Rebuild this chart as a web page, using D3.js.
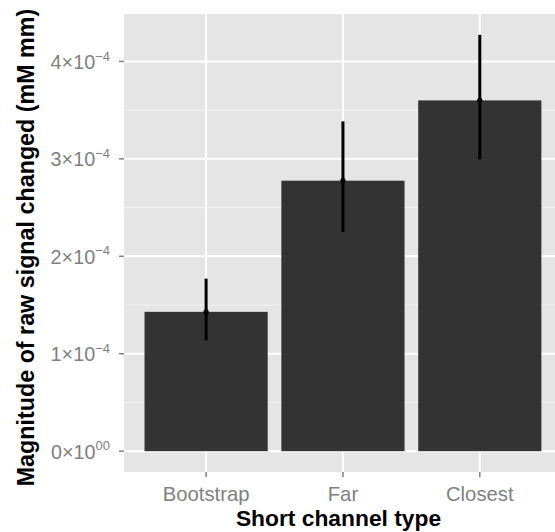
<!DOCTYPE html>
<html>
<head>
<meta charset="utf-8">
<script src="https://cdn.jsdelivr.net/npm/d3@7"></script>
<style>
  html, body { margin: 0; padding: 0; background: #fff; }
  svg { display: block; font-family: "Liberation Sans", Arial, Helvetica, sans-serif; }
</style>
</head>
<body>
<svg id="chart" width="555" height="532"></svg>
<script>
// Short channel types and mean signal change with error bounds
const categories = ["Bootstrap", "Far", "Closest"];
const means = [1.43e-4, 2.776e-4, 3.60e-4];
const lower = [1.138e-4, 2.25e-4, 2.995e-4];
const upper = [1.771e-4, 3.385e-4, 4.273e-4];
// y-axis tick values with their mantissa / exponent labels
const yTicks = [0, 1e-4, 2e-4, 3e-4, 4e-4];
const yTickMantissa = ["0", "1", "2", "3", "4"];
const yTickExponent = ["00", "\u22124", "\u22124", "\u22124", "\u22124"];

const svg = d3.select("#chart");
const panel = { left: 124, top: 14, bottom: 472, right: 561.9 };

// continuous y scale with 5% expansion around [0, max upper bound]
const yMax = d3.max(upper);
const pad = yMax * 0.05;
const y = d3.scaleLinear().domain([-pad, yMax + pad]).range([panel.bottom, panel.top]);

// discrete x positions, 0.6 category units of padding at each end
const x = d3.scalePoint().domain(categories).range([panel.left, panel.right]).padding(0.6);
const barW = x.step() * 0.9;

svg.append("defs").append("clipPath").attr("id", "panel-clip")
  .append("rect").attr("x", panel.left).attr("y", panel.top)
  .attr("width", panel.right - panel.left).attr("height", panel.bottom - panel.top);

const g = svg.append("g").attr("clip-path", "url(#panel-clip)");

g.append("rect")
  .attr("x", panel.left).attr("y", panel.top)
  .attr("width", panel.right - panel.left).attr("height", panel.bottom - panel.top)
  .attr("fill", "#E5E5E5");

// minor grid lines halfway between major ticks
const minor = d3.range(yTicks.length + 1).map(i => (i - 0.5) * 1e-4)
  .filter(v => v >= y.domain()[0] && v <= y.domain()[1]);
g.selectAll("line.minor").data(minor).join("line")
  .attr("class", "minor")
  .attr("x1", panel.left).attr("x2", panel.right)
  .attr("y1", d => y(d)).attr("y2", d => y(d))
  .attr("stroke", "#F2F2F2").attr("stroke-width", 1);

g.selectAll("line.majory").data(yTicks).join("line")
  .attr("class", "majory")
  .attr("x1", panel.left).attr("x2", panel.right)
  .attr("y1", d => y(d)).attr("y2", d => y(d))
  .attr("stroke", "#fff").attr("stroke-width", 2);

g.selectAll("line.majorx").data(categories).join("line")
  .attr("class", "majorx")
  .attr("x1", d => x(d)).attr("x2", d => x(d))
  .attr("y1", panel.top).attr("y2", panel.bottom)
  .attr("stroke", "#fff").attr("stroke-width", 2);

// bars
g.selectAll("rect.bar").data(categories).join("rect")
  .attr("class", "bar")
  .attr("x", d => x(d) - barW / 2)
  .attr("width", barW)
  .attr("y", (d, i) => y(means[i]))
  .attr("height", (d, i) => y(0) - y(means[i]))
  .attr("fill", "#333333");

// error ranges and mean points
g.selectAll("line.err").data(categories).join("line")
  .attr("class", "err")
  .attr("x1", d => x(d)).attr("x2", d => x(d))
  .attr("y1", (d, i) => y(lower[i])).attr("y2", (d, i) => y(upper[i]))
  .attr("stroke", "#000").attr("stroke-width", 3);

g.selectAll("circle.pt").data(categories).join("circle")
  .attr("class", "pt")
  .attr("cx", d => x(d)).attr("cy", (d, i) => y(means[i]))
  .attr("r", 2.6).attr("fill", "#000");

// y axis ticks and labels
const yAxis = svg.append("g");
yAxis.selectAll("line").data(yTicks).join("line")
  .attr("x1", panel.left - 5).attr("x2", panel.left)
  .attr("y1", d => y(d)).attr("y2", d => y(d))
  .attr("stroke", "#7F7F7F").attr("stroke-width", 1.5);

const yLab = yAxis.selectAll("text").data(yTicks).join("text")
  .attr("x", 110)
  .attr("y", d => y(d) + 7.6)
  .attr("text-anchor", "end")
  .attr("fill", "#7F7F7F")
  .style("font-size", "19.8px");
yLab.append("tspan").text((d, i) => yTickMantissa[i] + "\u00D710");
yLab.append("tspan")
  .attr("dy", -8.5)
  .style("font-size", "13px")
  .text((d, i) => yTickExponent[i]);

// x axis ticks and labels
const xAxis = svg.append("g");
xAxis.selectAll("line").data(categories).join("line")
  .attr("x1", d => x(d)).attr("x2", d => x(d))
  .attr("y1", panel.bottom).attr("y2", panel.bottom + 5)
  .attr("stroke", "#7F7F7F").attr("stroke-width", 1.5);

xAxis.selectAll("text").data(categories).join("text")
  .attr("x", d => x(d))
  .attr("y", 500.5)
  .attr("text-anchor", "middle")
  .attr("fill", "#7F7F7F")
  .style("font-size", "20.3px")
  .text(d => d);

// axis titles
svg.append("text")
  .attr("x", 338.5).attr("y", 526)
  .attr("text-anchor", "middle")
  .style("font-size", "22.8px").style("font-weight", "bold")
  .attr("fill", "#000")
  .text("Short channel type");

svg.append("text")
  .attr("transform", "translate(34,247.5) rotate(-90)")
  .attr("text-anchor", "middle")
  .style("font-size", "23.3px").style("font-weight", "bold")
  .attr("fill", "#000")
  .text("Magnitude of raw signal changed (mM mm)");
</script>
</body>
</html>
